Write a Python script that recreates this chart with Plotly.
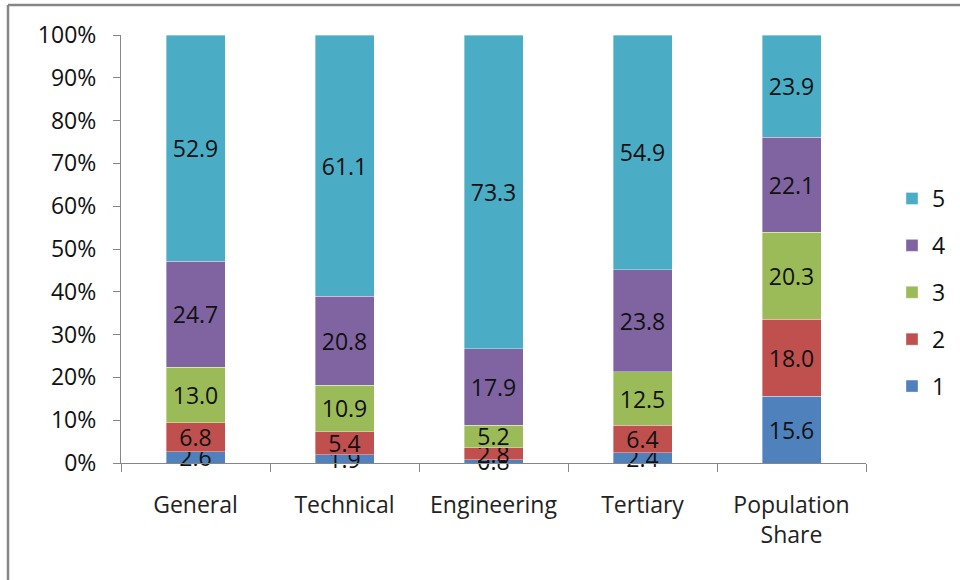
import plotly.graph_objects as go

categories = ["General", "Technical", "Engineering", "Tertiary", "Population<br>Share"]
series_names = ["1", "2", "3", "4", "5"]
q1 = [2.6, 1.9, 0.8, 2.4, 15.6]
q2 = [6.8, 5.4, 2.8, 6.4, 18.0]
q3 = [13.0, 10.9, 5.2, 12.5, 20.3]
q4 = [24.7, 20.8, 17.9, 23.8, 22.1]
q5 = [52.9, 61.1, 73.3, 54.9, 23.9]
colors = ["#4F81BD", "#C0504D", "#9BBB59", "#8064A2", "#4BACC6"]

FONT = "Open Sans"
AXIS_GRAY = "#868686"
FS = 23

fig = go.Figure()
n = len(series_names)
for i, (name, vals, col) in enumerate(zip(series_names, [q1, q2, q3, q4, q5], colors)):
    fig.add_trace(go.Bar(
        x=categories, y=vals, name=name, legendgroup=name,
        legendrank=n - i,  # top quintile listed first
        marker=dict(color=col, line=dict(color="rgba(255,255,255,0.6)", width=0.6)),
        text=[f"{v:.1f}" for v in vals],
        textposition="inside", insidetextanchor="middle",
        constraintext="none", textangle=0, cliponaxis=False,
        textfont=dict(family=FONT, size=FS, color="#111111"),
        hoverinfo="skip",
    ))

L, R, T, B = 121, 94, 35, 117
W, H = 960, 580
pw, ph = W - L - R, H - T - B

def px_x(p):
    return (p - L) / pw

def px_y(p):
    return (H - B - p) / ph

fig.update_layout(
    width=W, height=H,
    margin=dict(l=L, r=R, t=T, b=B, autoexpand=False),
    paper_bgcolor="white", plot_bgcolor="white",
    barmode="stack", barnorm="percent", bargap=0.604,
    showlegend=True,
    legend=dict(
        x=px_x(892), y=px_y(177), xanchor="left", yanchor="top",
        traceorder="grouped", tracegroupgap=14,
        font=dict(family=FONT, size=FS, color="#111111"),
        itemwidth=30,
    ),
    font=dict(family=FONT, size=FS, color="#111111"),
)

fig.update_xaxes(
    showline=True, linecolor=AXIS_GRAY, linewidth=1.2,
    ticks="outside", tickson="boundaries", ticklen=8, tickcolor=AXIS_GRAY,
    tickfont=dict(family=FONT, size=FS, color="#222222"),
    ticklabelstandoff=21, showgrid=False,
)
fig.update_yaxes(
    range=[0, 100], dtick=10, ticksuffix="%",
    showline=True, linecolor=AXIS_GRAY, linewidth=1.2,
    ticks="outside", ticklen=7, tickcolor=AXIS_GRAY,
    tickfont=dict(family=FONT, size=FS, color="#111111"),
    ticklabelstandoff=12, showgrid=False, zeroline=False,
)

# outer chart frame (left and top edges)
fig.add_shape(type="line", xref="paper", yref="paper",
              x0=px_x(8), x1=px_x(8), y0=px_y(600), y1=px_y(5),
              line=dict(color=AXIS_GRAY, width=2.5))
fig.add_shape(type="line", xref="paper", yref="paper",
              x0=px_x(8), x1=px_x(980), y0=px_y(5), y1=px_y(5),
              line=dict(color=AXIS_GRAY, width=2.5))

fig.write_html("out.html")
